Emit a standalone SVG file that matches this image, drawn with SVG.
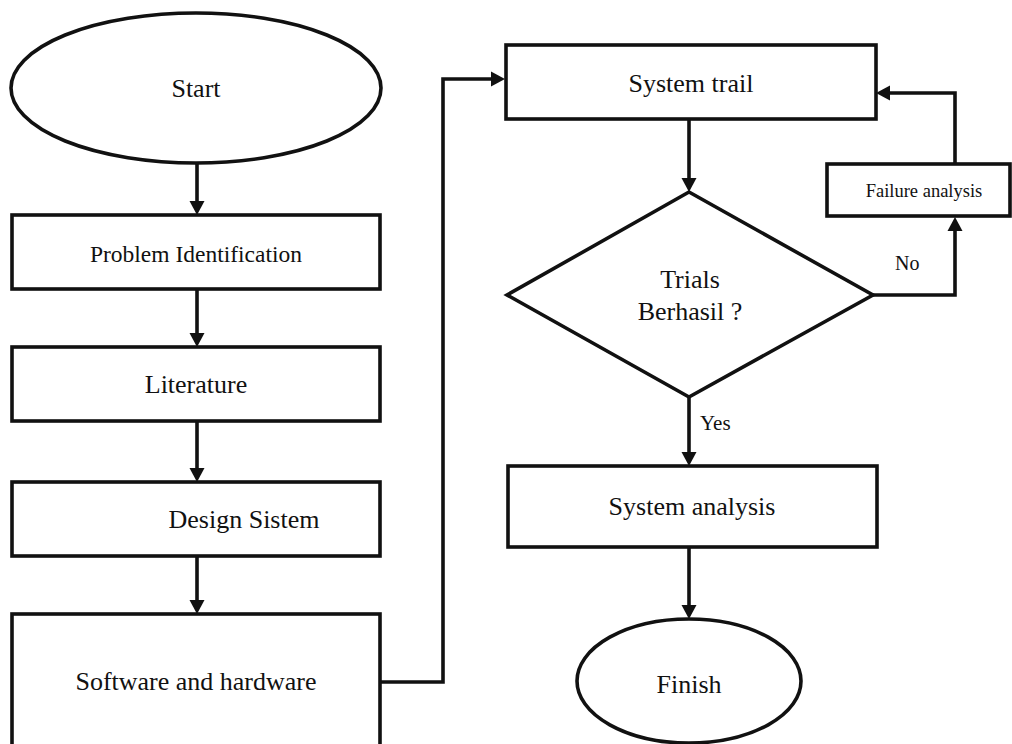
<svg xmlns="http://www.w3.org/2000/svg" width="1012" height="744" viewBox="0 0 1012 744">
<style>
.s{fill:#fff;stroke:#111;stroke-width:3.6}
.c{fill:none;stroke:#111;stroke-width:3.6}
text{font-family:"Liberation Serif","Times New Roman",serif;fill:#111;font-size:26px}
.m{text-anchor:middle}
</style>
<defs>
<marker id="ah" markerUnits="userSpaceOnUse" markerWidth="14" markerHeight="16" refX="4" refY="8" orient="auto">
<path d="M0,0.5 L14,8 L0,15.5 z" fill="#111"/>
</marker>
</defs>
<rect width="1012" height="744" fill="#fff"/>
<g id="connectors">
<path class="c" d="M197,163 V205" marker-end="url(#ah)"/>
<path class="c" d="M197,289 V337" marker-end="url(#ah)"/>
<path class="c" d="M197,421 V472" marker-end="url(#ah)"/>
<path class="c" d="M197,556 V604" marker-end="url(#ah)"/>
<path class="c" d="M380,682 H443 V79 H495" marker-end="url(#ah)"/>
<path class="c" d="M689,119 V182" marker-end="url(#ah)"/>
<path class="c" d="M873,295 H955 V227" marker-end="url(#ah)"/>
<path class="c" d="M955,164 V93 H886" marker-end="url(#ah)"/>
<path class="c" d="M689,396 V456" marker-end="url(#ah)"/>
<path class="c" d="M689,547 V609" marker-end="url(#ah)"/>
<text x="895" y="270" style="font-size:20px">No</text>
<text x="700" y="430" style="font-size:21px">Yes</text>
</g>
<g id="start"><ellipse class="s" cx="196" cy="88" rx="185" ry="75"/><text class="m" x="196" y="97">Start</text></g>
<g id="problem"><rect class="s" x="12" y="215" width="368" height="74"/><text class="m" x="196" y="262" style="font-size:23.5px">Problem Identification</text></g>
<g id="literature"><rect class="s" x="12" y="347" width="368" height="74"/><text class="m" x="196" y="393">Literature</text></g>
<g id="design"><rect class="s" x="12" y="482" width="368" height="74"/><text class="m" x="244" y="528">Design Sistem</text></g>
<g id="software"><rect class="s" x="12" y="614" width="368" height="140"/><text class="m" x="196" y="690">Software and hardware</text></g>
<g id="trail"><rect class="s" x="506" y="45" width="370" height="74"/><text class="m" x="691" y="92">System trail</text></g>
<g id="decision"><polygon class="s" points="689,192 873,295 689,397 507,295"/><text class="m" x="690" y="288">Trials</text><text class="m" x="690" y="320">Berhasil ?</text></g>
<g id="failure"><rect class="s" x="827" y="164" width="183" height="52"/><text class="m" x="924" y="197" style="font-size:18.5px">Failure analysis</text></g>
<g id="analysis"><rect class="s" x="508" y="466" width="369" height="81"/><text class="m" x="692" y="515">System analysis</text></g>
<g id="finish"><ellipse class="s" cx="689" cy="681" rx="112" ry="62"/><text class="m" x="689" y="693">Finish</text></g>
</svg>
